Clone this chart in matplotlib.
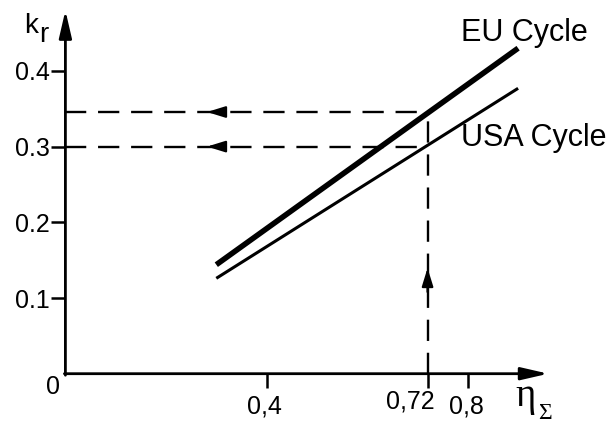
import matplotlib
matplotlib.use("Agg")
import matplotlib.pyplot as plt

# line data (eta_sigma vs k_r)
eu_x = [0.30, 0.90]
eu_y = [0.144, 0.430]
usa_x = [0.30, 0.90]
usa_y = [0.126, 0.377]

# readout at eta = 0.72
eta_mark = 0.72
eu_mark = 0.3457
usa_mark = 0.30

y_ticks = [0.1, 0.2, 0.3, 0.4]
y_labels = ["0.1", "0.2", "0.3", "0.4"]
x_ticks = [0.4, 0.72, 0.8]
x_labels = ["0,4", "0,72", "0,8"]

plt.rcParams['font.family'] = ['Liberation Sans', 'DejaVu Sans']

W, H = 612, 423
fig = plt.figure(figsize=(W / 100, H / 100), dpi=100)

# origin at (65.4, 373.7) px, 503 px per x unit, 757 px per y unit
x0, y0 = 65.4, 373.7
sx, sy = 503.0, 757.0
xmax, ymax = 0.96, 0.48
ax = fig.add_axes([x0 / W, (H - y0) / H, xmax * sx / W, ymax * sy / H])
ax.set_xlim(0, xmax)
ax.set_ylim(0, ymax)
for s in ax.spines.values():
    s.set_visible(False)

ax.plot(eu_x, eu_y, color='black', lw=4.0, solid_capstyle='butt')
ax.plot(usa_x, usa_y, color='black', lw=2.2, solid_capstyle='butt')

dash = (0, (9, 5))
ax.plot([0, eta_mark], [eu_mark, eu_mark], color='black', lw=1.7, ls=dash)
ax.plot([0, eta_mark], [usa_mark, usa_mark], color='black', lw=1.7, ls=dash)
ax.plot([eta_mark, eta_mark], [0, eu_mark], color='black', lw=1.7, ls=dash)

head = dict(arrowstyle='-|>,head_length=1.1,head_width=0.34', color='black',
            lw=1.6, mutation_scale=10, shrinkA=0, shrinkB=0)
ax.annotate('', xy=(0.2815, eu_mark), xytext=(0.315, eu_mark), arrowprops=head)
ax.annotate('', xy=(0.2815, usa_mark), xytext=(0.315, usa_mark), arrowprops=head)
ax.annotate('', xy=(eta_mark, 0.1396), xytext=(eta_mark, 0.108), arrowprops=head)

# axes with arrow heads
axis_arrow = dict(arrowstyle='-|>,head_length=1.65,head_width=0.38', color='black',
                  lw=2.0, mutation_scale=10, shrinkA=0, shrinkB=0)
ax.annotate('', xy=(xmax, 0), xytext=(-0.002, 0), arrowprops=axis_arrow,
            annotation_clip=False)
ax.annotate('', xy=(0, ymax), xytext=(0, -0.002), arrowprops=axis_arrow,
            annotation_clip=False)

ax.set_yticks(y_ticks)
ax.set_yticklabels(y_labels, fontsize=18)
ax.tick_params(axis='y', direction='out', length=10, width=1.8, pad=1)
ax.set_xticks(x_ticks)
ax.set_xticklabels([])
ax.tick_params(axis='x', direction='out', length=10, width=1.8)

# x tick labels placed by hand (0,72 sits a bit higher and left)
xl_pos = [(0.396, -0.027), (0.685, -0.0205), (0.798, -0.027)]
for (px, py), lab in zip(xl_pos, x_labels):
    ax.text(px, py, lab, fontsize=18, ha='center', va='top', clip_on=False)
ax.text(-0.0247, -0.0176, "0", fontsize=18, ha='center', va='center', clip_on=False)

ax.text(0.787, 0.450, "EU Cycle", fontsize=22, ha='left', va='center')
ax.text(0.787, 0.312, "USA Cycle", fontsize=22, ha='left', va='center')

# axis titles
fig.text(24 / W, 1 - 33 / H, "k", fontsize=20, ha='left', va='baseline')
fig.text(39 / W, 1 - 42 / H, "r", fontsize=20, ha='left', va='baseline')
fig.text(515 / W, 1 - 406 / H, "η", fontsize=28, family='Liberation Serif',
         ha='left', va='baseline')
fig.text(538 / W, 1 - 419 / H, "Σ", fontsize=17, family='Liberation Serif',
         ha='left', va='baseline')

fig.savefig("out.png", dpi=100)
